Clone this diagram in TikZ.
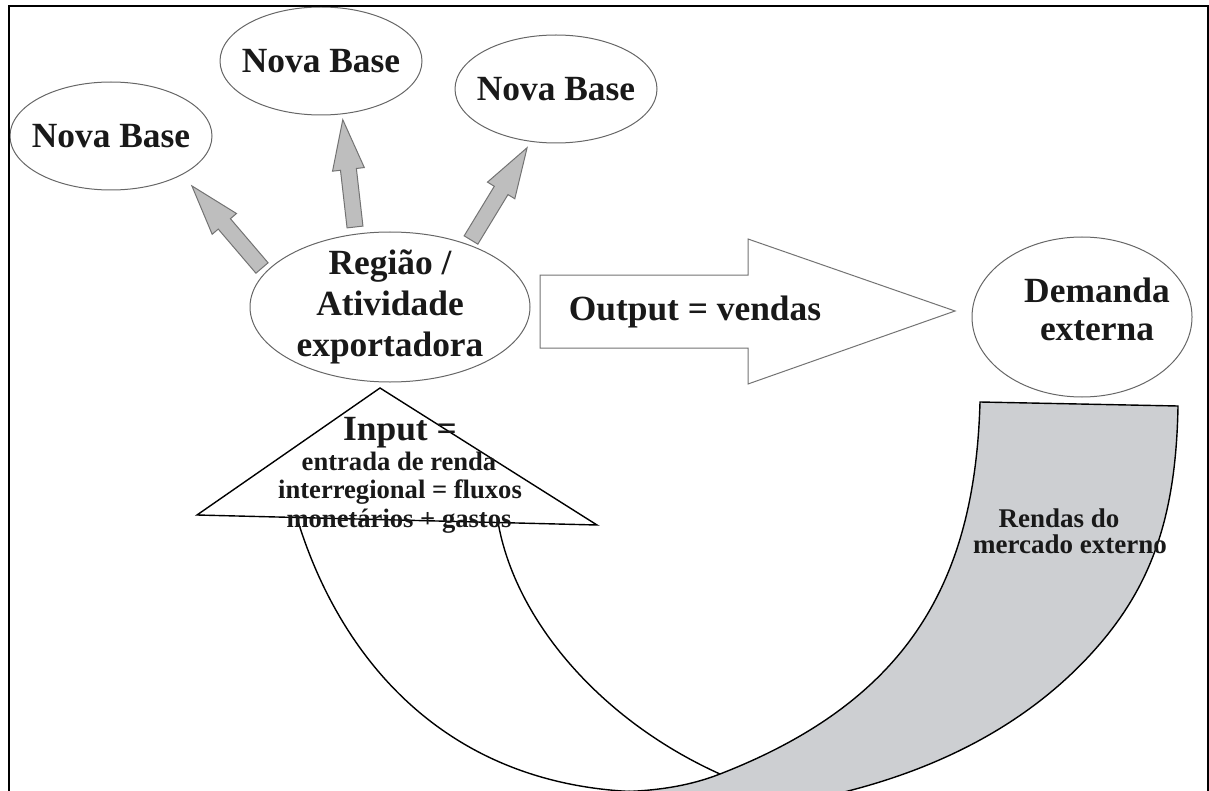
\documentclass[tikz,border=0pt]{standalone}
\usepackage{fontspec}
\setmainfont{Liberation Serif}
\usetikzlibrary{shapes.geometric}
\definecolor{bandGray}{RGB}{205,207,210}
\definecolor{arrowGray}{RGB}{190,190,190}
\begin{document}
\begin{tikzpicture}[x=0.5pt,y=-0.5pt,
	bubble/.style={shape=ellipse,draw=black!60,line width=0.5pt,fill=white,inner sep=-8pt,align=center,text=black!90,font=\bfseries\fontsize{17.7}{20.5}\selectfont},
	bigText/.style={text=black!90,font=\bfseries\fontsize{17.7}{20.5}\selectfont},
	smallText/.style={text=black!90,font=\bfseries\fontsize{13.3}{14}\selectfont},
	bandText/.style={text=black!90,inner sep=0pt,anchor=base,font=\bfseries\fontsize{13.5}{14}\selectfont},
	growArrow/.style={draw=black!55,line width=0.5pt,fill=arrowGray},
	outArrow/.style={draw=black!55,line width=0.5pt,fill=white},
	flow/.style={draw=black,line width=0.7pt}]
	\useasboundingbox (0,0) rectangle (1209,791);
	\clip (0,0) rectangle (1209,791);

	\node (novaBaseA) at (111,136)[bubble,minimum width=101pt,minimum height=54pt] {Nova Base};
	\node (novaBaseB) at (321,61)[bubble,minimum width=101pt,minimum height=54pt] {Nova Base};
	\node (novaBaseC) at (556,89)[bubble,minimum width=101pt,minimum height=54pt] {Nova Base};
	\node (regiaoNode) at (390,307)[bubble,minimum width=140pt,minimum height=75pt] {Região /\\Atividade\\exportadora};
	\node (demandaNode) at (1082,317)[bubble,minimum width=110pt,minimum height=80pt] {};
	\node (demandaText) at (1097,309)[bigText,align=center,font=\bfseries\fontsize{17.7}{19}\selectfont] {Demanda\\externa};

	\foreach \sx/\sy/\ang in {262/268/130.5, 355/227/96.5, 471/240/58.7}
		\draw[growArrow,shift={(\sx,\sy)},rotate=\ang] (0,-8) -- (58,-8) -- (58,-16) -- (108,0) -- (58,16) -- (58,8) -- (0,8) -- cycle;

	\draw[outArrow] (540,275) -- (748,275) -- (748,239) -- (955,311) -- (748,384) -- (748,348) -- (540,348) -- cycle;
	\node (outputNode) at (695,320)[bigText,anchor=base] {Output = vendas};

	\filldraw[flow,fill=bandGray] (980,402) .. controls (975,580) and (910,700) .. (720,774)
		.. controls (680,789.6) and (640,792) .. (600,792) -- (760,808)
		.. controls (930,785) and (1030,720) .. (1090,655)
		.. controls (1150,590) and (1176,520) .. (1178,406) -- cycle;
	\draw[flow] (297,518) .. controls (340,660) and (450,795) .. (660,792) -- (780,806);
	\draw[flow] (498,522) .. controls (515,620) and (600,720) .. (720,774);
	\node (rendasA) at (1059,527)[bandText] {Rendas do};
	\node (rendasB) at (1070,553)[bandText] {mercado externo};

	\draw[flow,fill=white] (197,515) -- (380,388) -- (597,525) -- cycle;
	\node (inputNode) at (400,440)[bigText,anchor=base] {Input =};
	\node (inputLineA) at (399,470)[smallText,anchor=base] {entrada de renda};
	\node (inputLineB) at (400,498)[smallText,anchor=base] {interregional = fluxos};
	\node (inputLineC) at (399,527)[smallText,anchor=base] {monetários + gastos};

	\draw[line width=1.2pt] (9,6) rectangle (1208,820);
\end{tikzpicture}
\end{document}
